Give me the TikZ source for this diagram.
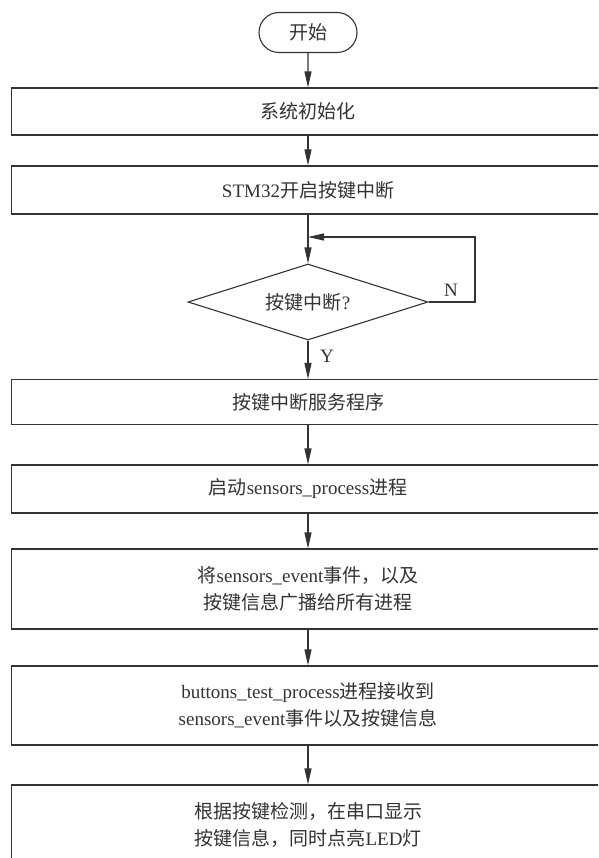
\documentclass[tikz,border=0pt]{standalone}
\usepackage{fontspec}
\setmainfont{Liberation Serif}
\newfontfamily\cjk{Noto Sans CJK SC}
\usetikzlibrary{arrows.meta,shapes.geometric,shapes.misc}
\newcommand\zh[1]{{\cjk #1}}
\begin{document}
\begin{tikzpicture}[x=1pt,y=-1pt,
  ink/.style={draw=black!80, line width=1.1pt},
  txt/.style={text=black!80, font=\fontsize{19}{27}\selectfont},
  box/.style={ink, txt, rectangle, minimum width=593pt, inner sep=0pt, align=center},
  term/.style={ink, txt, rounded rectangle, minimum width=98pt, minimum height=40pt, inner sep=0pt},
  decision/.style={ink, txt, diamond, aspect=3.2, minimum width=240pt, minimum height=76pt, inner sep=0pt},
  conn/.style={ink, -{Triangle[length=16pt,width=7pt]}},
  lbl/.style={txt, inner sep=0pt}
]
\path[use as bounding box, clip] (0,0) rectangle (598,858);
\fill[white] (0,0) rectangle (598,858);

\node[term] (start) at (308,32.5) {\zh{开始}};
\node[box, minimum height=47pt] (b1) at (308,111.5) {\zh{系统初始化}};
\node[box, minimum height=48pt] (b2) at (308,190) {STM32\zh{开启按键中断}};
\node[decision] (dia) at (308,302) {\zh{按键中断}?};
\node[box, minimum height=45pt] (b3) at (308,402) {\zh{按键中断服务程序}};
\node[box, minimum height=48pt] (b4) at (308,489) {\zh{启动}sensors\_process\zh{进程}};
\node[box, minimum height=80pt] (b5) at (308,589) {\zh{将}sensors\_event\zh{事件，以及}\\\zh{按键信息广播给所有进程}};
\node[box, minimum height=79pt] (b6) at (308,705.5) {buttons\_test\_process\zh{进程接收到}\\sensors\_event\zh{事件以及按键信息}};
\node[box, minimum height=80pt] (b7) at (308,825) {\zh{根据按键检测，在串口显示}\\\zh{按键信息，同时点亮}LED\zh{灯}};

\coordinate (lp) at (308,237);
\coordinate (nr) at (475,237);

\draw[conn] (start) -- (b1);
\draw[conn] (b1) -- (b2);
\draw[conn] (b2) -- (dia);
\draw[conn] (dia.east) -| (nr) -- (lp);
\draw[conn] (dia) -- (b3);
\draw[conn] (b3) -- (b4);
\draw[conn] (b4) -- (b5);
\draw[conn] (b5) -- (b6);
\draw[conn] (b6) -- (b7);

\node[lbl] (nlab) at (451,290) {N};
\node[lbl] (ylab) at (327,356) {Y};
\end{tikzpicture}
\end{document}
